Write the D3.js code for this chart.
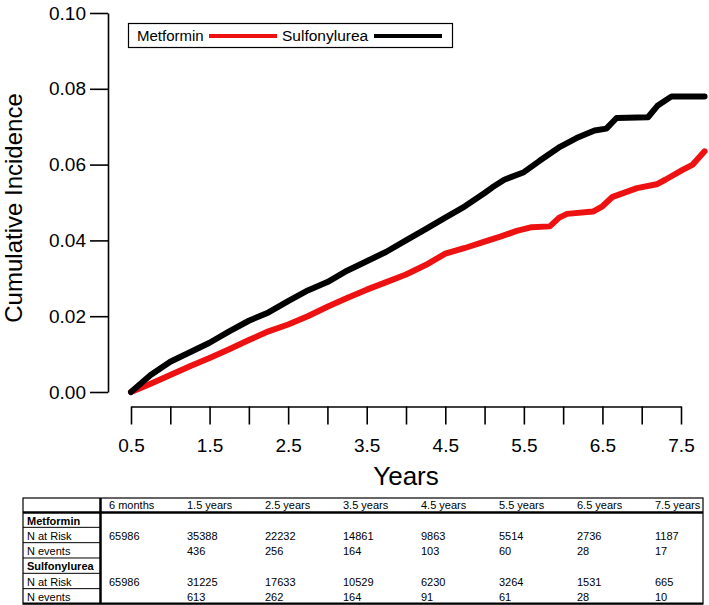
<!DOCTYPE html>
<html><head><meta charset="utf-8">
<script src="https://cdn.jsdelivr.net/npm/d3@7"></script>
<style>body{margin:0;background:#fff;} svg{display:block;font-family:"Liberation Sans",Arial,sans-serif;}</style>
</head><body><svg id="c" width="709" height="605"></svg>
<script>
// ---- data ----
const metTime = [0.5,0.75,1.0,1.25,1.5,1.75,2.0,2.25,2.5,2.75,3.0,3.25,3.5,3.75,4.0,4.25,4.5,4.75,5.0,5.2,5.41,5.6,5.83,5.95,6.05,6.38,6.5,6.63,6.94,7.19,7.3,7.52,7.65,7.8];
const metCum  = [0,0.0022,0.0045,0.0068,0.0090,0.0113,0.0137,0.0160,0.0178,0.0200,0.0225,0.0248,0.0270,0.0290,0.0310,0.0335,0.0365,0.0380,0.0397,0.0410,0.0425,0.0435,0.0437,0.0460,0.0470,0.0476,0.0490,0.0515,0.0538,0.0548,0.0560,0.0586,0.0600,0.0635];
const sulTime = [0.5,0.75,1.0,1.25,1.5,1.75,2.0,2.25,2.5,2.75,3.0,3.25,3.5,3.75,4.0,4.25,4.5,4.75,5.0,5.1,5.25,5.5,5.7,5.96,6.17,6.4,6.55,6.68,7.08,7.2,7.38,7.8];
const sulCum  = [0,0.0045,0.0080,0.0105,0.0130,0.0160,0.0188,0.0210,0.0240,0.0268,0.0290,0.0320,0.0345,0.0370,0.0400,0.0430,0.0460,0.0490,0.0525,0.0540,0.0560,0.0580,0.0610,0.0647,0.0670,0.0690,0.0695,0.0723,0.0725,0.0755,0.0780,0.0780];
const yTicks = [0,0.02,0.04,0.06,0.08,0.10];
const xTicks = [0.5,1,1.5,2,2.5,3,3.5,4,4.5,5,5.5,6,6.5,7,7.5];
const seriesNames = ["Metformin","Sulfonylurea"];
const tableCols = ["6 months","1.5 years","2.5 years","3.5 years","4.5 years","5.5 years","6.5 years","7.5 years"];
const metAtRisk = ["65986","35388","22232","14861","9863","5514","2736","1187"];
const metEvents = ["","436","256","164","103","60","28","17"];
const sulAtRisk = ["65986","31225","17633","10529","6230","3264","1531","665"];
const sulEvents = ["","613","262","164","91","61","28","10"];

const svg = d3.select("#c");
const FONT = '"Liberation Sans",Arial,sans-serif';
const x = d3.scaleLinear().domain([0.5,7.5]).range([131,681]);
const y = d3.scaleLinear().domain([0,0.1]).range([392,13]);

// y axis
const ya = svg.append("g").attr("transform","translate(108,0)")
  .call(d3.axisLeft(y).tickValues(yTicks).tickSize(18).tickSizeOuter(0).tickPadding(4).tickFormat(d3.format(".2f")));
ya.attr("font-size",19).attr("font-family",FONT);
ya.selectAll("path,line").attr("stroke","#000").attr("stroke-width",1.6);
ya.selectAll("text").attr("fill","#000");

// x axis
const xa = svg.append("g").attr("transform","translate(0,406.5)")
  .call(d3.axisBottom(x).tickValues(xTicks).tickSize(18).tickSizeOuter(0).tickPadding(14)
    .tickFormat(d => (Math.round(d*2)%2===1) ? d3.format(".1f")(d) : ""));
xa.attr("font-size",19).attr("font-family",FONT);
xa.selectAll("path,line").attr("stroke","#000").attr("stroke-width",1.6);
xa.selectAll("text").attr("fill","#000");

// titles
svg.append("text").attr("transform","translate(22,208) rotate(-90)")
  .attr("text-anchor","middle").attr("font-size",24).attr("fill","#000").text("Cumulative Incidence");
svg.append("text").attr("x",(x(0.5)+x(7.5))/2).attr("y",485)
  .attr("text-anchor","middle").attr("font-size",26).attr("fill","#000").text("Years");

// curves
const line = d3.line().x(d=>x(d[0])).y(d=>y(d[1]));
svg.append("path").datum(metTime.map((t,i)=>[t,metCum[i]]))
  .attr("d",line).attr("fill","none").attr("stroke","#ee1111").attr("stroke-width",6)
  .attr("stroke-linejoin","round").attr("stroke-linecap","round");
svg.append("path").datum(sulTime.map((t,i)=>[t,sulCum[i]]))
  .attr("d",line).attr("fill","none").attr("stroke","#000").attr("stroke-width",6)
  .attr("stroke-linejoin","round").attr("stroke-linecap","round");

// legend
const lg = svg.append("g");
lg.append("rect").attr("x",128.5).attr("y",23.5).attr("width",324).attr("height",24)
  .attr("fill","#fff").attr("stroke","#000").attr("stroke-width",1.2);
lg.append("text").attr("x",137).attr("y",41).attr("font-size",15).attr("fill","#000").text(seriesNames[0]);
lg.append("line").attr("x1",209).attr("x2",277).attr("y1",36).attr("y2",36).attr("stroke","#ee1111").attr("stroke-width",4);
lg.append("text").attr("x",282).attr("y",41).attr("font-size",15.5).attr("fill","#000").text(seriesNames[1]);
lg.append("line").attr("x1",374).attr("x2",442).attr("y1",36).attr("y2",36).attr("stroke","#000").attr("stroke-width",4);

// table
const tb = svg.append("g").attr("font-size",11).attr("fill","#000");
const tL = 23, tR = 703, tT = 498, hdrB = 512, rowH = 15.33, divX = 100.5;
const colX = d3.scaleLinear().domain([0, tableCols.length-1]).range([109,655]);
const rowLabels = [["Metformin",true],["N at Risk",false],["N events",false],["Sulfonylurea",true],["N at Risk",false],["N events",false]];
const rowData = [null, metAtRisk, metEvents, null, sulAtRisk, sulEvents];
const tB = hdrB + rowH*rowLabels.length;
tb.append("rect").attr("x",tL).attr("y",tT).attr("width",tR-tL).attr("height",tB-tT)
  .attr("fill","none").attr("stroke","#000").attr("stroke-width",1.2);
tb.append("line").attr("x1",tL).attr("x2",tR).attr("y1",hdrB+0.5).attr("y2",hdrB+0.5).attr("stroke","#000").attr("stroke-width",2.5);
tb.append("line").attr("x1",tL).attr("x2",tR).attr("y1",tB-0.5).attr("y2",tB-0.5).attr("stroke","#000").attr("stroke-width",2);
tb.append("line").attr("x1",divX).attr("x2",divX).attr("y1",tT).attr("y2",tB).attr("stroke","#000").attr("stroke-width",2.5);
for (let r=1;r<rowLabels.length;r++){
  const yy = hdrB + rowH*r;
  tb.append("line").attr("x1",tL).attr("x2",divX).attr("y1",yy).attr("y2",yy).attr("stroke","#000").attr("stroke-width",1);
}
tableCols.forEach((c,i)=>{
  tb.append("text").attr("x",colX(i)).attr("y",tT+11).text(c);
});
rowLabels.forEach((rl,r)=>{
  const top = hdrB + rowH*r;
  tb.append("text").attr("x",27).attr("y",top+12.5)
    .attr("font-weight",rl[1]?"bold":"normal").text(rl[0]);
  if (rowData[r]) rowData[r].forEach((v,i)=>{
    tb.append("text").attr("x",colX(i)).attr("y",top+12.8).text(v);
  });
});
</script></body></html>
